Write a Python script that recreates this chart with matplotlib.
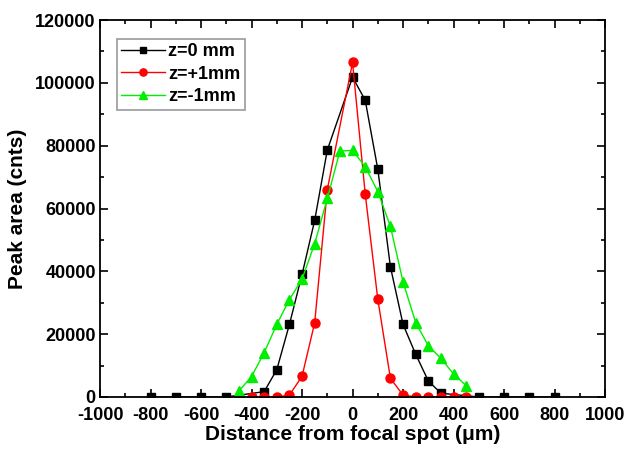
import matplotlib.pyplot as plt
from matplotlib.ticker import MultipleLocator

plt.rcParams['font.family'] = ['Liberation Sans', 'DejaVu Sans']
plt.rcParams['font.weight'] = 'bold'
plt.rcParams['axes.unicode_minus'] = False

# z = 0 mm
x0 = [-800, -700, -600, -500, -350, -300, -250, -200, -150, -100, 0, 50, 100, 150, 200, 250, 300, 350, 500, 600, 700, 800]
y0 = [0, 0, 0, 0, 1700, 8700, 23100, 39000, 56200, 78600, 101800, 94500, 72500, 41400, 23100, 13600, 5100, 1200, 0, 0, 0, 0]

# z = +1 mm
x1 = [-450, -400, -350, -300, -250, -200, -150, -100, 0, 50, 100, 150, 200, 250, 300, 350, 400, 450]
y1 = [0, 0, 0, 0, 600, 6600, 23600, 66000, 106500, 64700, 31100, 5900, 600, 0, 0, 0, 0, 0]

# z = -1 mm
x2 = [-450, -400, -350, -300, -250, -200, -150, -100, -50, 0, 50, 100, 150, 200, 250, 300, 350, 400, 450]
y2 = [1900, 6500, 14100, 23100, 31000, 37500, 48800, 63200, 78300, 78500, 73300, 65400, 54300, 36600, 23700, 16300, 12300, 7300, 3600]

fig = plt.figure(figsize=(6.29, 4.55), dpi=100)
ax = fig.add_axes([0.159, 0.1275, 0.803, 0.8285])

ax.plot(x0, y0, '-s', color='black', lw=1, ms=6, label='z=0 mm')
ax.plot(x1, y1, '-o', color='#ff0000', lw=1, ms=6.5, label='z=+1mm')
ax.plot(x2, y2, '-^', color='#00ee00', lw=1, ms=7, label='z=-1mm')

ax.set_xlim(-1000, 1000)
ax.set_ylim(0, 120000)
ax.xaxis.set_major_locator(MultipleLocator(200))
ax.xaxis.set_minor_locator(MultipleLocator(100))
ax.yaxis.set_major_locator(MultipleLocator(20000))
ax.yaxis.set_minor_locator(MultipleLocator(10000))
ax.tick_params(which='both', direction='in', top=True, right=True, width=1.2, labelsize=13)
ax.tick_params(axis='x', pad=7)
ax.tick_params(axis='y', pad=3)
ax.tick_params(which='major', length=6)
ax.tick_params(which='minor', length=3)
for s in ax.spines.values():
    s.set_linewidth(1.3)

ax.set_xlabel('Distance from focal spot (\u03bcm)', fontsize=15, fontweight='bold', labelpad=1)
ax.set_ylabel('Peak area (cnts)', fontsize=15, fontweight='bold', labelpad=6)

leg = ax.legend(loc='upper left', fontsize=13, frameon=True, fancybox=False,
                edgecolor='gray', borderpad=0.25, handlelength=2.4, handletextpad=0.2,
                labelspacing=0.3, bbox_to_anchor=(0.033, 0.95), borderaxespad=0,
                markerscale=0.8)
leg.get_frame().set_linewidth(1.2)

fig.savefig('out.png', dpi=100)
